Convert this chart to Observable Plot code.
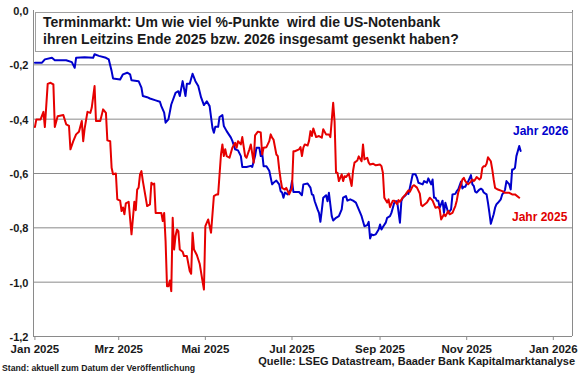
<!DOCTYPE html>
<html>
<head>
<meta charset="utf-8">
<script src="https://cdn.jsdelivr.net/npm/d3@7"></script>
<script src="https://cdn.jsdelivr.net/npm/@observablehq/plot@0.6"></script>
<style>
  html, body { margin: 0; padding: 0; background: #fff; }
  #wrap { position: relative; width: 580px; height: 375px; font-family: "Liberation Sans", Arial, sans-serif; font-weight: bold; color: #1a1a1a; }
  #title { position: absolute; left: 35px; top: 12px; width: 529px; height: 37px; background: #fff; border: 1px solid #a0a0a0; padding: 1px 0 0 7px; font-size: 14px; line-height: 17px; }
  .lab { position: absolute; white-space: nowrap; }
</style>
</head>
<body>
<div id="wrap">
  <div id="chart"></div>
  <div id="title">Terminmarkt: Um wie viel %-Punkte&nbsp; wird die US-Notenbank<br>ihren Leitzins Ende 2025 bzw. 2026 insgesamt gesenkt haben?</div>
  <div class="lab" style="left:513px; top:124px; font-size:12px; color:#0000cc;">Jahr 2026</div>
  <div class="lab" style="left:512px; top:210px; font-size:12px; color:#e00000;">Jahr 2025</div>
  <div class="lab" style="right:5px; top:355px; font-size:11px;">Quelle: LSEG Datastream, Baader Bank Kapitalmarktanalyse</div>
  <div class="lab" style="left:2px; top:363px; font-size:8.7px;">Stand: aktuell zum Datum der Veröffentlichung</div>
</div>
<script>
// Jahr 2026 (blue): [date, change in %-points]
const jahr2026 = [
["2025-01-01",-0.192],["2025-01-06",-0.192],["2025-01-08",-0.180],["2025-01-13",-0.174],["2025-01-15",-0.183],
["2025-01-23",-0.183],["2025-01-27",-0.190],["2025-01-29",-0.211],["2025-01-30",-0.174],["2025-02-05",-0.172],
["2025-02-11",-0.174],["2025-02-12",-0.161],["2025-02-15",-0.167],["2025-02-20",-0.174],["2025-02-22",-0.180],
["2025-02-24",-0.223],["2025-02-25",-0.250],["2025-03-02",-0.254],["2025-03-04",-0.235],["2025-03-07",-0.229],
["2025-03-09",-0.235],["2025-03-10",-0.257],["2025-03-15",-0.260],["2025-03-17",-0.284],["2025-03-18",-0.315],
["2025-03-21",-0.319],["2025-03-23",-0.324],["2025-03-27",-0.331],["2025-03-30",-0.336],["2025-03-31",-0.352],
["2025-04-02",-0.376],["2025-04-03",-0.413],["2025-04-05",-0.401],["2025-04-07",-0.346],["2025-04-10",-0.303],
["2025-04-12",-0.297],["2025-04-13",-0.315],["2025-04-15",-0.260],["2025-04-17",-0.315],["2025-04-18",-0.270],
["2025-04-20",-0.270],["2025-04-22",-0.233],["2025-04-24",-0.260],["2025-04-26",-0.278],["2025-04-28",-0.320],
["2025-04-30",-0.348],["2025-05-02",-0.334],["2025-05-04",-0.352],["2025-05-06",-0.432],["2025-05-07",-0.450],
["2025-05-08",-0.428],["2025-05-10",-0.428],["2025-05-11",-0.392],["2025-05-13",-0.385],["2025-05-14",-0.425],
["2025-05-16",-0.444],["2025-05-19",-0.468],["2025-05-20",-0.480],["2025-05-22",-0.511],["2025-05-24",-0.515],
["2025-05-26",-0.536],["2025-05-27",-0.576],["2025-05-30",-0.576],["2025-06-02",-0.572],["2025-06-03",-0.576],
["2025-06-05",-0.536],["2025-06-06",-0.505],["2025-06-08",-0.505],["2025-06-09",-0.536],["2025-06-10",-0.524],
["2025-06-11",-0.573],["2025-06-13",-0.573],["2025-06-15",-0.590],["2025-06-17",-0.640],["2025-06-18",-0.634],
["2025-06-20",-0.626],["2025-06-22",-0.640],["2025-06-23",-0.665],["2025-06-24",-0.670],["2025-06-25",-0.689],
["2025-06-26",-0.670],["2025-06-28",-0.677],["2025-06-30",-0.659],["2025-07-01",-0.628],["2025-07-02",-0.668],
["2025-07-03",-0.668],["2025-07-06",-0.668],["2025-07-08",-0.680],["2025-07-09",-0.640],["2025-07-12",-0.637],
["2025-07-14",-0.652],["2025-07-15",-0.677],["2025-07-16",-0.680],["2025-07-17",-0.702],["2025-07-19",-0.732],
["2025-07-20",-0.745],["2025-07-21",-0.778],["2025-07-22",-0.735],["2025-07-23",-0.689],["2025-07-25",-0.680],
["2025-07-26",-0.702],["2025-07-27",-0.671],["2025-07-29",-0.757],["2025-07-30",-0.773],["2025-08-01",-0.763],
["2025-08-03",-0.757],["2025-08-05",-0.732],["2025-08-06",-0.689],["2025-08-08",-0.683],["2025-08-09",-0.700],
["2025-08-11",-0.695],["2025-08-13",-0.700],["2025-08-15",-0.707],["2025-08-17",-0.732],["2025-08-19",-0.757],
["2025-08-21",-0.794],["2025-08-23",-0.790],["2025-08-24",-0.778],["2025-08-25",-0.839],["2025-08-26",-0.824],
["2025-08-27",-0.827],["2025-08-29",-0.824],["2025-08-31",-0.806],["2025-09-01",-0.788],["2025-09-02",-0.806],
["2025-09-03",-0.797],["2025-09-05",-0.781],["2025-09-06",-0.763],["2025-09-08",-0.757],["2025-09-09",-0.745],
["2025-09-11",-0.708],["2025-09-12",-0.702],["2025-09-13",-0.702],["2025-09-15",-0.781],["2025-09-16",-0.702],
["2025-09-17",-0.689],["2025-09-19",-0.680],["2025-09-20",-0.671],["2025-09-21",-0.675],["2025-09-22",-0.652],
["2025-09-24",-0.603],["2025-09-26",-0.603],["2025-09-27",-0.615],["2025-09-28",-0.634],["2025-10-01",-0.640],
["2025-10-02",-0.628],["2025-10-04",-0.634],["2025-10-05",-0.618],["2025-10-07",-0.640],["2025-10-08",-0.622],
["2025-10-09",-0.689],["2025-10-10",-0.689],["2025-10-11",-0.700],["2025-10-12",-0.700],["2025-10-13",-0.726],
["2025-10-15",-0.700],["2025-10-16",-0.745],["2025-10-17",-0.708],["2025-10-18",-0.726],["2025-10-19",-0.745],
["2025-10-21",-0.732],["2025-10-22",-0.677],["2025-10-24",-0.675],["2025-10-25",-0.665],["2025-10-26",-0.659],
["2025-10-28",-0.630],["2025-10-29",-0.655],["2025-10-30",-0.649],["2025-10-31",-0.649],["2025-11-01",-0.637],
["2025-11-02",-0.630],["2025-11-04",-0.606],["2025-11-05",-0.640],["2025-11-06",-0.646],["2025-11-07",-0.667],
["2025-11-08",-0.670],["2025-11-10",-0.659],["2025-11-11",-0.656],["2025-11-12",-0.659],["2025-11-13",-0.670],
["2025-11-15",-0.677],["2025-11-16",-0.708],["2025-11-17",-0.745],["2025-11-18",-0.785],["2025-11-20",-0.750],
["2025-11-21",-0.726],["2025-11-22",-0.713],["2025-11-23",-0.708],["2025-11-25",-0.695],["2025-11-26",-0.677],
["2025-11-27",-0.671],["2025-11-28",-0.659],["2025-11-29",-0.628],["2025-12-01",-0.640],["2025-12-02",-0.659],
["2025-12-03",-0.585],["2025-12-04",-0.585],["2025-12-05",-0.579],["2025-12-06",-0.536],["2025-12-08",-0.499],
["2025-12-09",-0.517]
];
// Jahr 2025 (red)
const jahr2025 = [
["2025-01-01",-0.429],["2025-01-02",-0.401],["2025-01-05",-0.401],["2025-01-07",-0.373],["2025-01-08",-0.429],
["2025-01-10",-0.270],["2025-01-12",-0.266],["2025-01-14",-0.272],["2025-01-15",-0.429],["2025-01-17",-0.389],
["2025-01-21",-0.385],["2025-01-23",-0.419],["2025-01-25",-0.425],["2025-01-26",-0.511],["2025-01-28",-0.481],
["2025-01-30",-0.456],["2025-02-01",-0.446],["2025-02-03",-0.407],["2025-02-04",-0.481],["2025-02-05",-0.435],
["2025-02-07",-0.373],["2025-02-09",-0.377],["2025-02-10",-0.358],["2025-02-12",-0.278],["2025-02-13",-0.407],
["2025-02-16",-0.407],["2025-02-18",-0.364],["2025-02-20",-0.377],["2025-02-21",-0.478],["2025-02-23",-0.481],
["2025-02-24",-0.579],["2025-02-25",-0.603],["2025-02-27",-0.600],["2025-02-28",-0.695],["2025-03-02",-0.700],
["2025-03-03",-0.738],["2025-03-04",-0.725],["2025-03-05",-0.750],["2025-03-06",-0.710],["2025-03-08",-0.704],
["2025-03-09",-0.765],["2025-03-10",-0.824],["2025-03-11",-0.765],["2025-03-12",-0.704],["2025-03-13",-0.735],
["2025-03-14",-0.659],["2025-03-15",-0.652],["2025-03-16",-0.603],["2025-03-17",-0.591],["2025-03-18",-0.628],
["2025-03-20",-0.689],["2025-03-21",-0.720],["2025-03-23",-0.714],["2025-03-24",-0.634],["2025-03-25",-0.640],
["2025-03-26",-0.637],["2025-03-27",-0.745],["2025-03-30",-0.745],["2025-03-31",-0.745],["2025-04-01",-0.775],
["2025-04-02",-0.745],["2025-04-03",-0.849],["2025-04-04",-1.015],["2025-04-05",-1.015],["2025-04-06",-0.994],
["2025-04-07",-1.033],["2025-04-08",-0.763],["2025-04-09",-0.880],["2025-04-10",-0.830],["2025-04-11",-0.806],
["2025-04-12",-0.812],["2025-04-13",-0.880],["2025-04-15",-0.888],["2025-04-16",-0.904],["2025-04-18",-0.904],
["2025-04-20",-0.959],["2025-04-21",-0.969],["2025-04-22",-0.818],["2025-04-23",-0.880],["2025-04-25",-0.900],
["2025-04-27",-0.932],["2025-04-29",-0.996],["2025-04-30",-1.027],["2025-05-01",-0.794],["2025-05-03",-0.769],
["2025-05-05",-0.818],["2025-05-07",-0.683],["2025-05-09",-0.677],["2025-05-10",-0.677],["2025-05-12",-0.530],
["2025-05-13",-0.493],["2025-05-14",-0.536],["2025-05-15",-0.511],["2025-05-16",-0.536],["2025-05-18",-0.542],
["2025-05-20",-0.505],["2025-05-22",-0.487],["2025-05-23",-0.505],["2025-05-24",-0.481],["2025-05-26",-0.493],
["2025-05-27",-0.466],["2025-05-29",-0.536],["2025-05-30",-0.542],["2025-06-01",-0.511],["2025-06-02",-0.493],
["2025-06-04",-0.560],["2025-06-05",-0.460],["2025-06-07",-0.446],["2025-06-09",-0.449],["2025-06-10",-0.530],
["2025-06-11",-0.505],["2025-06-13",-0.503],["2025-06-15",-0.481],["2025-06-16",-0.456],["2025-06-17",-0.468],
["2025-06-18",-0.475],["2025-06-20",-0.530],["2025-06-21",-0.536],["2025-06-22",-0.585],["2025-06-23",-0.622],
["2025-06-24",-0.653],["2025-06-26",-0.659],["2025-06-27",-0.653],["2025-06-29",-0.677],["2025-07-01",-0.653],
["2025-07-02",-0.518],["2025-07-03",-0.518],["2025-07-06",-0.511],["2025-07-07",-0.503],["2025-07-08",-0.536],
["2025-07-09",-0.505],["2025-07-10",-0.493],["2025-07-12",-0.497],["2025-07-13",-0.480],["2025-07-14",-0.444],
["2025-07-15",-0.462],["2025-07-16",-0.434],["2025-07-18",-0.466],["2025-07-20",-0.462],["2025-07-22",-0.468],
["2025-07-23",-0.437],["2025-07-25",-0.456],["2025-07-27",-0.456],["2025-07-28",-0.466],["2025-07-30",-0.340],
["2025-07-31",-0.410],["2025-08-01",-0.597],["2025-08-02",-0.597],["2025-08-03",-0.628],["2025-08-05",-0.603],
["2025-08-06",-0.628],["2025-08-07",-0.610],["2025-08-08",-0.613],["2025-08-10",-0.600],["2025-08-12",-0.646],
["2025-08-13",-0.590],["2025-08-14",-0.560],["2025-08-16",-0.552],["2025-08-17",-0.537],["2025-08-19",-0.555],
["2025-08-20",-0.493],["2025-08-21",-0.548],["2025-08-23",-0.542],["2025-08-24",-0.560],["2025-08-25",-0.567],
["2025-08-27",-0.564],["2025-08-29",-0.570],["2025-09-01",-0.567],["2025-09-02",-0.573],["2025-09-03",-0.597],
["2025-09-04",-0.689],["2025-09-06",-0.707],["2025-09-07",-0.695],["2025-09-08",-0.724],["2025-09-10",-0.700],
["2025-09-11",-0.700],["2025-09-13",-0.713],["2025-09-14",-0.698],["2025-09-15",-0.704],["2025-09-17",-0.689],
["2025-09-19",-0.677],["2025-09-21",-0.662],["2025-09-22",-0.667],["2025-09-24",-0.646],["2025-09-25",-0.643],
["2025-09-27",-0.652],["2025-09-29",-0.674],["2025-09-30",-0.716],["2025-10-01",-0.720],["2025-10-04",-0.707],
["2025-10-05",-0.698],["2025-10-06",-0.689],["2025-10-08",-0.700],["2025-10-09",-0.713],["2025-10-10",-0.726],
["2025-10-12",-0.723],["2025-10-13",-0.732],["2025-10-14",-0.769],["2025-10-16",-0.750],["2025-10-17",-0.757],
["2025-10-19",-0.738],["2025-10-20",-0.750],["2025-10-22",-0.745],["2025-10-23",-0.732],["2025-10-24",-0.720],
["2025-10-25",-0.700],["2025-10-26",-0.671],["2025-10-28",-0.640],["2025-10-29",-0.622],["2025-10-30",-0.616],
["2025-10-31",-0.628],["2025-11-01",-0.634],["2025-11-02",-0.640],["2025-11-04",-0.630],["2025-11-05",-0.622],
["2025-11-06",-0.628],["2025-11-07",-0.622],["2025-11-08",-0.613],["2025-11-10",-0.622],["2025-11-11",-0.616],
["2025-11-12",-0.579],["2025-11-13",-0.573],["2025-11-14",-0.573],["2025-11-15",-0.564],["2025-11-16",-0.540],
["2025-11-18",-0.555],["2025-11-19",-0.585],["2025-11-20",-0.622],["2025-11-21",-0.653],["2025-11-23",-0.659],
["2025-11-26",-0.665],["2025-11-28",-0.671],["2025-12-01",-0.671],["2025-12-03",-0.677],["2025-12-05",-0.677],
["2025-12-08",-0.689]
];
const seriesNames = ["Jahr 2026", "Jahr 2025"];
const seriesColors = ["#0000cc", "#e60000"];
const xTickDates = ["2025-01-01","2025-03-01","2025-05-01","2025-07-01","2025-09-01","2025-11-01","2026-01-01"];
const xTickLabels = ["Jan 2025","Mrz 2025","Mai 2025","Jul 2025","Sep 2025","Nov 2025","Jan 2026"];
const yTicks = [0, -0.2, -0.4, -0.6, -0.8, -1.0, -1.2];
const yTickLabels = ["0,0","-0,2","-0,4","-0,6","-0,8","-1,0","-1,2"];
const xDomain = ["2024-12-31T00:00Z", "2026-01-14T12:00Z"];

const parse = s => new Date(s + (s.length === 10 ? "T00:00Z" : ""));
const rows = [
  ...jahr2026.map(([d, v]) => ({date: parse(d), value: v, series: seriesNames[0]})),
  ...jahr2025.map(([d, v]) => ({date: parse(d), value: v, series: seriesNames[1]}))
];
const xTicks = xTickDates.map(parse);
const xLabelOf = new Map(xTicks.map((d, i) => [+d, xTickLabels[i]]));
const yLabelOf = new Map(yTicks.map((v, i) => [v, yTickLabels[i]]));
const dom = xDomain.map(s => new Date(s));

const chart = Plot.plot({
  width: 580,
  height: 375,
  marginLeft: 33,
  marginRight: 8,
  marginTop: 10,
  marginBottom: 39,
  style: {fontFamily: "'Liberation Sans', Arial, sans-serif", background: "#fff", color: "#1a1a1a"},
  x: {type: "utc", domain: dom},
  y: {domain: [-1.2, 0]},
  color: {domain: seriesNames, range: seriesColors},
  marks: [
    Plot.ruleY(yTicks.slice(1, -1), {stroke: "#8a8a8a", strokeWidth: 1}),
    Plot.ruleX([dom[0], dom[1]], {stroke: "#8a8a8a", strokeWidth: 1}),
    Plot.ruleY([-1.2], {stroke: "#8a8a8a", strokeWidth: 1}),
    Plot.axisX({ticks: xTicks, tickFormat: d => xLabelOf.get(+d), tickSize: 4, tickPadding: 4, fontSize: 11.5, fontWeight: "bold", stroke: "#8a8a8a", label: null}),
    Plot.axisY({ticks: yTicks, tickFormat: v => yLabelOf.get(v), tickSize: 0, tickPadding: 5, fontSize: 11, fontWeight: "bold", dy: 1, label: null}),
    Plot.line(rows, {x: "date", y: "value", z: "series", stroke: "series", strokeWidth: 2, curve: "linear"})
  ]
});
document.getElementById("chart").appendChild(chart);
</script>
</body>
</html>
